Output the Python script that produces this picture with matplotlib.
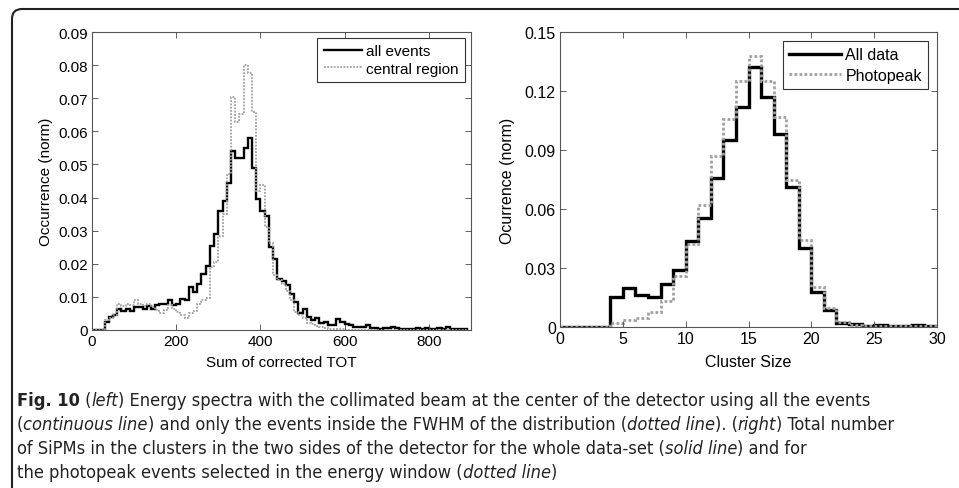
import numpy as np
import matplotlib
matplotlib.use("Agg")
import matplotlib.pyplot as plt
from matplotlib import font_manager as fm
from matplotlib.patches import FancyBboxPatch
from matplotlib.transforms import IdentityTransform

# ---- data ----
# left panel: energy spectra, bins of 10 from 0 to 890
tot_edges = np.arange(0, 900, 10)
all_events = [
    0, 0, 0,
    0.0025, 0.0038, 0.0046, 0.0062, 0.0058, 0.0063, 0.0056, 0.0068, 0.0070, 0.0062,
    0.0072, 0.0062, 0.0074, 0.0078, 0.0080, 0.0092, 0.0075, 0.0080, 0.0095, 0.0090,
    0.0130, 0.0115, 0.0140, 0.0170, 0.0192, 0.0255, 0.0290, 0.0360, 0.0390, 0.0445,
    0.0540, 0.0520, 0.0520, 0.0550, 0.0580, 0.0490, 0.0395, 0.0360, 0.0345, 0.0250,
    0.0215, 0.0155, 0.0148, 0.0135, 0.0110, 0.0085, 0.0052, 0.0062, 0.0040, 0.0030,
    0.0035, 0.0022, 0.0025, 0.0015, 0.0015, 0.0032, 0.0024, 0.0018, 0.0014, 0.0009,
    0.0008, 0.0010, 0.0014, 0.0007, 0.0006, 0.0004, 0.0005, 0.0006, 0.0009, 0.0005,
    0.0003, 0.0003, 0.0004, 0.0003, 0.0005, 0.0004, 0.0005, 0.0003, 0.0004, 0.0005,
    0.0003, 0.0008, 0.0003, 0.0002, 0.0003, 0.0002,
]
central_region = [
    0, 0, 0,
    0.0030, 0.0035, 0.0045, 0.0080, 0.0072, 0.0080, 0.0074, 0.0092, 0.0080, 0.0072,
    0.0080, 0.0068, 0.0060, 0.0050, 0.0060, 0.0074, 0.0062, 0.0055, 0.0045, 0.0035,
    0.0050, 0.0058, 0.0078, 0.0090, 0.0098, 0.0190, 0.0205, 0.0285, 0.0350, 0.0470,
    0.0705, 0.0627, 0.0653, 0.0799, 0.0776, 0.0658, 0.0420, 0.0438, 0.0310, 0.0262,
    0.0165, 0.0152, 0.0138, 0.0118, 0.0090, 0.0055, 0.0045, 0.0035, 0.0022, 0.0018,
    0.0012, 0.0008, 0.0005, 0.0004, 0.0003, 0.0004, 0.0002, 0.0001, 0.0001, 0,
    0, 0, 0, 0, 0, 0, 0, 0, 0, 0,
    0, 0, 0, 0, 0, 0, 0, 0, 0, 0,
    0, 0, 0, 0, 0, 0,
]

# right panel: cluster size, unit bins
cluster_edges = np.arange(0, 31, 1)
all_data = [
    0, 0, 0, 0, 0.0155, 0.0200, 0.0165, 0.0155, 0.0220, 0.0290,
    0.0435, 0.0555, 0.0760, 0.0950, 0.1120, 0.1320, 0.1170, 0.0980, 0.0710, 0.0400,
    0.0180, 0.0085, 0.0020, 0.0015, 0.0005, 0.0008, 0.0007, 0.0005, 0.0008, 0.0005,
]
photopeak = [
    0, 0, 0, 0, 0.0020, 0.0035, 0.0045, 0.0075, 0.0130, 0.0260,
    0.0420, 0.0620, 0.0870, 0.1060, 0.1250, 0.1380, 0.1250, 0.1070, 0.0750, 0.0440,
    0.0205, 0.0095, 0.0025, 0.0008, 0.0003, 0.0003, 0.0003, 0.0003, 0.0003, 0.0003,
]

left_xticks = [0, 200, 400, 600, 800]
left_yticks = [0, 0.01, 0.02, 0.03, 0.04, 0.05, 0.06, 0.07, 0.08, 0.09]
right_xticks = [0, 5, 10, 15, 20, 25, 30]
right_yticks = [0, 0.03, 0.06, 0.09, 0.12, 0.15]

caption_lines = [
    [("Fig. 10", "bold"), (" (", ""), ("left", "italic"),
     (") Energy spectra with the collimated beam at the center of the detector using all the events", "")],
    [("(", ""), ("continuous line", "italic"),
     (") and only the events inside the FWHM of the distribution (", ""), ("dotted line", "italic"),
     ("). (", ""), ("right", "italic"), (") Total number", "")],
    [("of SiPMs in the clusters in the two sides of the detector for the whole data-set (", ""),
     ("solid line", "italic"), (") and for", "")],
    [("the photopeak events selected in the energy window (", ""), ("dotted line", "italic"), (")", "")],
]

plt.rcParams["font.family"] = ["Liberation Sans", "DejaVu Sans"]
plt.rcParams["font.size"] = 11

W, H = 959, 489
fig = plt.figure(figsize=(W / 100, H / 100), dpi=100)

ax1 = fig.add_axes([92 / W, 1 - 331 / H, 379 / W, 298 / H])
ax2 = fig.add_axes([560 / W, 1 - 328 / H, 377 / W, 295 / H])

dotted = (0, (1, 0.8))
ax1.stairs(all_events, tot_edges, color="black", lw=1.7, label="all events")
ax1.stairs(central_region, tot_edges, color="#a0a0a0", lw=1.3,
           linestyle=dotted, label="central region")
ax1.set_xlim(0, 900)
ax1.set_ylim(0, 0.09)
ax1.set_xticks(left_xticks)
ax1.set_xticklabels([str(t) for t in left_xticks])
ax1.set_yticks(left_yticks)
ax1.set_yticklabels(["0"] + ["%.2f" % t for t in left_yticks[1:]])
ax1.set_xlabel("Sum of corrected TOT", labelpad=5)
ax1.set_ylabel("Occurrence (norm)", labelpad=4)

ax2.stairs(all_data, cluster_edges, color="black", lw=2.4, label="All data")
ax2.stairs(photopeak, cluster_edges, color="#a0a0a0", lw=2.0, linestyle=dotted, label="Photopeak")
ax2.set_xlim(0, 30)
ax2.set_ylim(0, 0.15)
ax2.set_xticks(right_xticks)
ax2.set_xticklabels([str(t) for t in right_xticks])
ax2.set_yticks(right_yticks)
ax2.set_yticklabels(["0"] + ["%.2f" % t for t in right_yticks[1:]])
ax2.set_xlabel("Cluster Size", labelpad=6)
ax2.set_ylabel("Ocurrence (norm)", labelpad=7)

for ax, pad, fs, hl, ls in ((ax1, 0.4, 11, 2.5, 0.22), (ax2, 0.55, 11.5, 3.2, 0.35)):
    ax.tick_params(direction="in", top=True, right=True, length=4, width=0.6,
                   color="#444444", labelsize=fs, pad=3)
    ax.xaxis.label.set_size(fs)
    ax.yaxis.label.set_size(fs)
    for sp in ax.spines.values():
        sp.set_color("#555555")
        sp.set_linewidth(0.8)
    leg = ax.legend(loc="upper right", borderaxespad=pad, fancybox=False, framealpha=1,
                    edgecolor="#333333", handlelength=hl, handletextpad=0.3,
                    labelspacing=ls, borderpad=0.4, fontsize=fs)
    leg.get_frame().set_linewidth(0.8)

# outer rounded frame
frame = FancyBboxPatch((12, -10), 1000, H, boxstyle="round,pad=0,rounding_size=10",
                       transform=IdentityTransform(), fill=False, edgecolor="#222222",
                       linewidth=1.5, clip_on=False)
fig.patches.append(frame)

# caption font: a narrow humanist face if one is installed
cap_font = "Lato"
cap_stretch = "normal"
for fam, stretch, key in (("Liberation Sans Narrow", "normal", "Narrow"),
                          ("DejaVu Sans", "condensed", "Condensed")):
    try:
        path = fm.findfont(fm.FontProperties(family=fam, stretch=stretch),
                           fallback_to_default=False)
        if key in path:
            cap_font, cap_stretch = fam, stretch
            break
    except Exception:
        pass

renderer = fig.canvas.get_renderer()
x_start = 17
baselines = [406, 430, 454, 478]
line_ends = [893, 940, 767, 538]


def piece_kw(style, size):
    return dict(fontfamily=cap_font, fontstretch=cap_stretch, fontsize=size,
                fontweight="bold" if style == "bold" else "normal",
                fontstyle="italic" if style == "italic" else "normal")


def line_width(pieces, size):
    total = 0
    for txt, style in pieces:
        t = fig.text(0, 0, txt, **piece_kw(style, size))
        total += t.get_window_extent(renderer).width
        t.remove()
    return total


measured = sum(line_width(p, 12) for p in caption_lines)
wanted = sum(e - x_start for e in line_ends)
cap_size = 12 * wanted / measured

for pieces, y in zip(caption_lines, baselines):
    x = x_start
    for txt, style in pieces:
        t = fig.text(x / W, 1 - y / H, txt, va="baseline", ha="left", color="#222222",
                     **piece_kw(style, cap_size))
        x += t.get_window_extent(renderer).width

fig.savefig("out.png", dpi=100)
